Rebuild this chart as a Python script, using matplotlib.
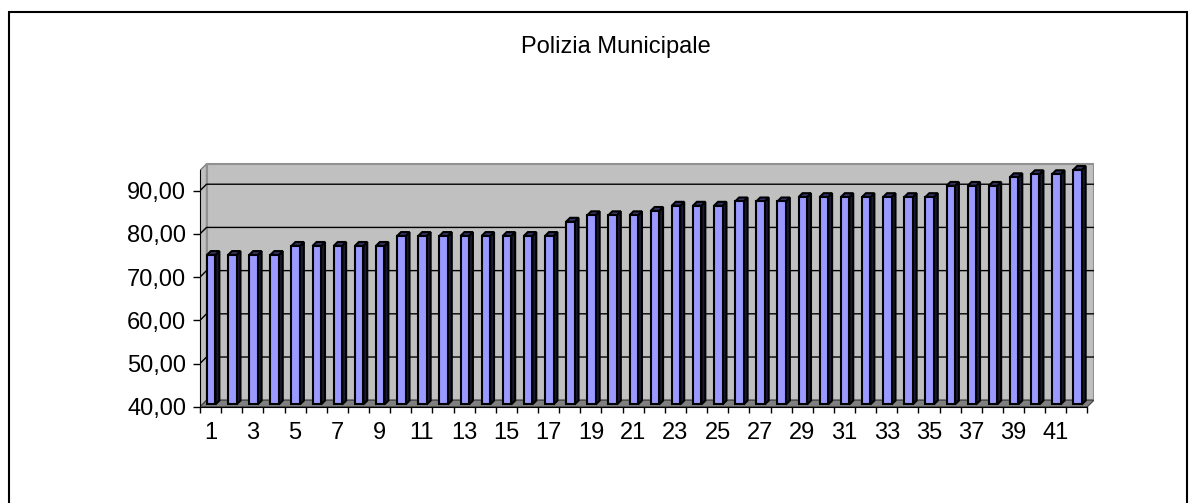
import numpy as np
import matplotlib
matplotlib.use('Agg')
import matplotlib.pyplot as plt
from matplotlib.patches import Polygon, Rectangle

plt.rcParams['font.family'] = ['Liberation Sans', 'DejaVu Sans']

# data
categories = list(range(1, 43))
values = [74.6, 74.6, 74.6, 74.6, 76.7, 76.7, 76.7, 76.7, 76.7,
          79.0, 79.0, 79.0, 79.0, 79.0, 79.0, 79.0, 79.0,
          82.3, 83.8, 83.8, 83.8, 84.8, 86.0, 86.0, 86.0,
          87.0, 87.0, 87.0, 88.0, 88.0, 88.0, 88.0, 88.0, 88.0, 88.0,
          90.6, 90.6, 90.6, 92.6, 93.3, 93.3, 94.3]
yticks = [40, 50, 60, 70, 80, 90]
title = 'Polizia Municipale'

W, H = 1196, 503
ymin, wall_top = 40, 94.7
n = len(categories)
DX, DY = 0.31, 1.5      # depth of the 3d box (data units)
f, d = 0.35, 0.6        # bar front position / bar depth as fraction of DX,DY
w = 0.4                 # bar width

fig = plt.figure(figsize=(W / 100, H / 100), dpi=100)
ax = fig.add_axes([200 / W, (H - 406.7) / H, (1094 - 200) / W, (406.7 - 160) / H])
ax.set_xlim(0, n + DX)
ax.set_ylim(ymin, ymin + (406.7 - 160) / 4.32)
ax.set_facecolor('none')

# walls and floor
ax.add_patch(Polygon([(0, ymin), (DX, ymin + DY), (DX, wall_top + DY), (0, wall_top)],
                     fc='#C0C0C0', ec='#808080', lw=1, zorder=0))
ax.add_patch(Rectangle((DX, ymin + DY), n, wall_top - ymin,
                       fc='#C0C0C0', ec='#909090', lw=1.5, zorder=0))
ax.add_patch(Polygon([(0, ymin), (n, ymin), (n + DX, ymin + DY), (DX, ymin + DY)],
                     fc='#808080', ec='#404040', lw=0.8, zorder=1))
for v in yticks[1:]:
    ax.plot([0, DX, n + DX], [v, v + DY, v + DY], color='black', lw=1, zorder=1)

# bars
x0 = np.arange(n) + 0.33
vals = np.array(values)
base = ymin + f * DY
ax.bar(x0, vals - ymin, width=w, bottom=base, align='edge',
       color='#9999FF', edgecolor='black', lw=1.5, zorder=3)
for xi, v in zip(x0, vals):
    t = v + f * DY
    side = [(xi + w, base), (xi + w + d * DX, base + d * DY),
            (xi + w + d * DX, t + d * DY), (xi + w, t)]
    top = [(xi, t), (xi + w, t), (xi + w + d * DX, t + d * DY), (xi + d * DX, t + d * DY)]
    ax.add_patch(Polygon(side, fc='#1A1A33', ec='black', lw=1.5, zorder=2))
    ax.add_patch(Polygon(top, fc='#333366', ec='black', lw=1.5, zorder=2))

# axes
for s in ['top', 'right']:
    ax.spines[s].set_visible(False)
ax.spines['left'].set_bounds(ymin, wall_top)
ax.spines['bottom'].set_bounds(0, n)
ax.set_yticks(yticks)
ax.set_yticklabels([('%.2f' % v).replace('.', ',') for v in yticks])
ax.tick_params(axis='y', direction='out', length=5, width=1, pad=5, labelsize=17)
ax.set_xticks(np.arange(n + 1), minor=True)
ax.set_xticks(np.arange(0, n, 2) + 0.5)
ax.set_xticklabels([str(c) for c in categories[::2]])
ax.tick_params(axis='x', which='major', length=0, pad=11, labelsize=17)
ax.tick_params(axis='x', which='minor', direction='out', length=4.5, width=1)

fig.text(616 / W, 1 - 47 / H, title, ha='center', va='center', fontsize=17)
fig.add_artist(Rectangle((9 / W, -0.05), (1187 - 9) / W, (H - 12) / H + 0.05,
                         transform=fig.transFigure, fill=False, ec='black', lw=1.5))

fig.savefig('out.png', dpi=100)
